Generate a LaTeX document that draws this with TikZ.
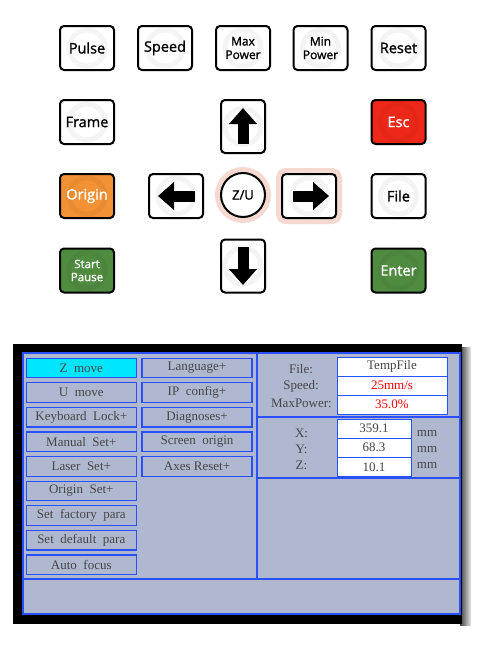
\documentclass[tikz,border=0pt]{standalone}
\usepackage{fontspec}
\setmainfont{Liberation Serif}
\newfontfamily\keyfont[FakeBold=1.3]{Open Sans}
\usetikzlibrary{arrows.meta}
\usetikzlibrary{positioning}

\definecolor{escred}{RGB}{238,40,24}
\definecolor{orgorange}{RGB}{243,146,52}
\definecolor{keygreen}{RGB}{80,140,64}
\definecolor{halopink}{RGB}{246,218,210}
\definecolor{lcdback}{RGB}{175,184,207}
\definecolor{lcdblue}{RGB}{40,80,255}
\definecolor{lcdcyan}{RGB}{0,230,255}
\definecolor{lcdtext}{RGB}{70,70,70}

\tikzset{
  keybox/.style={draw=black, line width=2pt, rounded corners=4pt, fill=white,
    minimum width=54pt, minimum height=44pt, inner sep=0pt, align=center,
    font=\keyfont\fontsize{14.5}{15}\selectfont,
    path picture={\draw[black, opacity=0.045, line width=5pt]
      (path picture bounding box.center) circle (18pt);}},
  smallkey/.style={keybox, font=\keyfont\fontsize{12}{13.5}\selectfont},
  tallkey/.style={keybox, minimum width=44pt, minimum height=53pt},
  colkey/.style={keybox, fill=#1, text=white},
  halo/.style={preaction={draw=halopink, line width=12pt}},
  bigarrow/.style={line width=11pt, -{Triangle[length=16pt,width=27pt]}},
  lcdbtn/.style={draw=lcdblue, line width=1.2pt, fill=lcdback,
    minimum width=110pt, minimum height=19.5pt, inner sep=0pt,
    text=lcdtext, font=\fontsize{13}{14}\selectfont},
  lcdfield/.style={draw=lcdblue, line width=1pt, fill=white,
    minimum height=19pt, inner sep=0pt,
    text=lcdtext, font=\fontsize{13}{14}\selectfont},
  lcdlabel/.style={text=lcdtext, font=\fontsize{13}{14}\selectfont, inner sep=0pt}
}

\begin{document}
\begin{tikzpicture}[x=1pt,y=-1pt]

            % \draw [help lines] (0,0) grid (482,648);
            \useasboundingbox (0,0) rectangle (482,648);

            \path   (87,48) node (pulse) [keybox] {Pulse}
                    (165,48) node (speed) [keybox] {Speed}
                    (243,48) node (maxp) [smallkey] {Max\\Power}
                    (320.5,48) node (minp) [smallkey] {Min\\Power}
                    (398.5,48) node (reset) [keybox] {Reset}

                    (87,122) node (frame) [keybox] {Frame}
                    (243,126.5) node (up) [tallkey] {}
                    (398.5,122) node (esc) [colkey=escred] {Esc}

                    (87,196) node (origin) [colkey=orgorange] {Origin}
                    (176,196) node (left) [keybox] {}
                    (243,195) node (zu) [circle,draw=black,line width=2pt,fill=white,halo,
                                         minimum size=44pt,inner sep=0pt,
                                         font=\keyfont\fontsize{13}{14}\selectfont] {Z/U}
                    (309,196) node (right) [keybox,halo] {}
                    (398.5,196) node (file) [keybox] {File}

                    (87,270.5) node (start) [colkey=keygreen,font=\keyfont\fontsize{11.5}{13}\selectfont] {Start\\Pause}
                    (243,266) node (down) [tallkey] {}
                    (398.5,270.5) node (enter) [colkey=keygreen] {Enter};

            \draw[bigarrow] ([yshift=-17.5pt]up.center) -- ([yshift=18.5pt]up.center);
            \draw[bigarrow] ([yshift=19pt]down.center) -- ([yshift=-19pt]down.center);
            \draw[bigarrow] ([xshift=19pt]left.center) -- ([xshift=-18pt]left.center);
            \draw[bigarrow] ([xshift=-16.5pt]right.center) -- ([xshift=20pt]right.center);

            % screen
            \shade[left color=black!75, right color=black!8] (460,347) rectangle (471,625);
            \fill[black] (13,344) rectangle (462,624);
            \draw[lcdblue, fill=lcdback, line width=1.5pt] (23,353) rectangle (460,614);
            \draw[lcdblue, line width=1.5pt] (257,353) -- (257,579);
            \draw[lcdblue, line width=1.5pt] (23,579) -- (460,579);
            \draw[lcdblue, line width=1.5pt] (257,417) -- (460,417);
            \draw[lcdblue, line width=1.5pt] (257,478) -- (460,478);

            \path   (81.3,368) node (zmove) [lcdbtn,fill=lcdcyan] {Z~~move}
                    (81.3,392.6) node (umove) [lcdbtn] {U~~move}
                    (81.3,417.2) node (klock) [lcdbtn] {Keyboard~~Lock+}
                    (81.3,441.8) node (manual) [lcdbtn] {Manual~~Set+}
                    (81.3,466.4) node (laser) [lcdbtn] {Laser~~Set+}
                    (81.3,491) node (oset) [lcdbtn] {Origin~~Set+}
                    (81.3,515.6) node (factory) [lcdbtn] {Set~~factory~~para}
                    (81.3,540.2) node (default) [lcdbtn] {Set~~default~~para}
                    (81.3,564.8) node (focus) [lcdbtn] {Auto~~focus}

                    (197,368) node (lang) [lcdbtn] {Language+}
                    (197,392.6) node (ipcfg) [lcdbtn] {IP~~config+}
                    (197,417.2) node (diag) [lcdbtn] {Diagnoses+}
                    (197,441.8) node (sorigin) [lcdbtn] {Screen~~origin}
                    (197,466.4) node (axes) [lcdbtn] {Axes Reset+};

            \path   (392,366.5) node (fname) [lcdfield,minimum width=110pt] {TempFile}
                    (392,385.5) node (fspeed) [lcdfield,minimum width=110pt,text=red] {25mm/s}
                    (392,404.5) node (fpower) [lcdfield,minimum width=110pt,text=red] {35.0\%}
                    (301,369) node (lfile) [lcdlabel] {File:}
                    (301,386) node (lspeed) [lcdlabel] {Speed:}
                    (301.5,403) node (lpower) [lcdlabel] {MaxPower:}

                    (374,428.5) node (fx) [lcdfield,minimum width=74pt] {359.1}
                    (374,447.5) node (fy) [lcdfield,minimum width=74pt] {68.3}
                    (374,467) node (fz) [lcdfield,minimum width=74pt] {10.1}
                    (301.5,433) node (lx) [lcdlabel] {X:}
                    (301.5,449) node (ly) [lcdlabel] {Y:}
                    (301.5,465) node (lz) [lcdlabel] {Z:}
                    (427,433) node (mmx) [lcdlabel] {mm}
                    (427,449) node (mmy) [lcdlabel] {mm}
                    (427,465) node (mmz) [lcdlabel] {mm};

\end{tikzpicture}
\end{document}
